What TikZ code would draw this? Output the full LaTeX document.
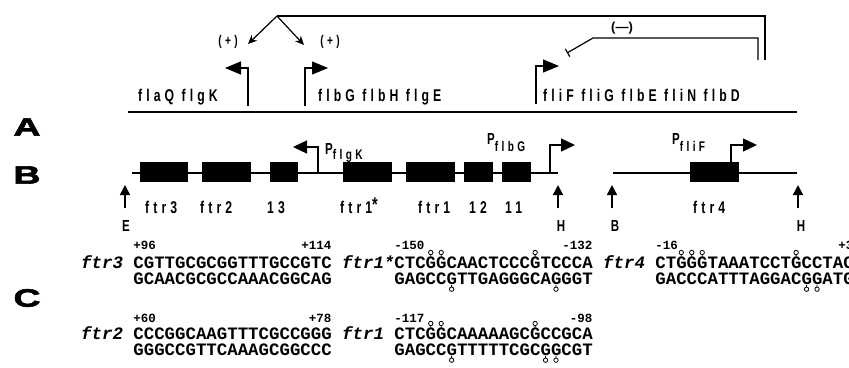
\documentclass[tikz,border=0pt]{standalone}
\usepackage{fontspec}
\usetikzlibrary{arrows.meta}
\setmainfont{Liberation Sans}
\newfontfamily\genefont[FakeStretch=0.72,LetterSpace=24]{Liberation Sans}
\newfontfamily\seqfont{Liberation Mono}
\newfontfamily\panelfont[FakeStretch=1.5,FakeBold=2.5]{Liberation Sans}
\newcommand\topmeth[2]{\draw[meth] (#1,#2-11.3) -- (#1,#2-13.3) (#1,#2-15.5) circle[radius=2.2];}
\newcommand\botmeth[2]{\draw[meth] (#1,#2+0.8) -- (#1,#2+3) (#1,#2+5.2) circle[radius=2.2];}
\tikzset{
  genetext/.style={font=\genefont\bfseries\fontsize{17}{17}\selectfont,inner sep=0pt,anchor=base west},
  sitelab/.style={font=\genefont\bfseries\fontsize{16}{16}\selectfont,inner sep=0pt,anchor=base},
  plab/.style={font=\genefont\bfseries\fontsize{16}{16}\selectfont,inner sep=0pt,anchor=base west},
  panel/.style={font=\panelfont\bfseries\fontsize{25}{25}\selectfont,inner sep=0pt},
  seqtext/.style={font=\seqfont\bfseries\fontsize{17.4}{17.4}\selectfont,inner sep=0pt,anchor=base west},
  seqlab/.style={font=\seqfont\bfseries\itshape\fontsize{17.4}{17.4}\selectfont,inner sep=0pt,anchor=base west},
  posnum/.style={font=\seqfont\bfseries\fontsize{12.5}{12.5}\selectfont,inner sep=0pt},
  signlab/.style={font=\genefont\bfseries\fontsize{14}{14}\selectfont,inner sep=0pt},
  geneline/.style={line width=1.5pt},
  promline/.style={line width=1.4pt,-{Triangle[length=16pt,width=13pt]}},
  prombline/.style={line width=1.3pt,-{Triangle[length=14pt,width=13pt]}},
  sitearrow/.style={line width=1.5pt,-{Triangle[length=10pt,width=10pt]}},
  regline/.style={line width=1.2pt},
  actarrow/.style={line width=1.2pt,-{Stealth[length=9pt,width=8pt]}},
  inhib/.style={line width=1.2pt,-{Bar[width=9pt,line width=1.2pt]}},
  orf/.style={fill=black},
  meth/.style={line width=0.8pt},
}
\begin{document}
\begin{tikzpicture}[x=1pt,y=-1pt]
\fill[white] (0,0) rectangle (849,367);
\useasboundingbox (0,0) rectangle (849,367);

% panel letters
\node[panel] (LA) at (27,127) {A};
\node[panel] (LB) at (27,175) {B};
\node[panel] (LC) at (27,298) {C};

% ---------------- A ----------------
\coordinate (lineAL) at (128,112);
\coordinate (lineAR) at (797,112);
\draw[geneline] (lineAL) -- (lineAR);

\node[genetext] (gK) at (138,101) {flaQ flgK};
\node[genetext] (gG) at (318,101) {flbG flbH flgE};
\node[genetext] (gF) at (543,101) {fliF fliG flbE fliN flbD};

\coordinate (pKb) at (248,106); \coordinate (pKt) at (225,68);
\coordinate (pGb) at (305,106); \coordinate (pGt) at (328,68);
\coordinate (pFb) at (536,104); \coordinate (pFt) at (559,66);
\draw[promline] (pKb) |- (pKt);
\draw[promline] (pGb) |- (pGt);
\draw[promline] (pFb) |- (pFt);

% regulation
\coordinate (apex) at (277,16);
\coordinate (corner) at (765,16);
\coordinate (outEnd) at (765,60);
\coordinate (actK) at (248,44);
\coordinate (actG) at (304,45);
\draw[regline] (apex) -- (corner) -- (outEnd);
\draw[actarrow] (apex) -- (actK);
\draw[actarrow] (apex) -- (actG);
\coordinate (inStart) at (758,60);
\coordinate (inKnee) at (593,38);
\coordinate (inEnd) at (567,53);
\draw[inhib] (inStart) |- (inKnee) -- (inEnd);

\node[signlab] (plusK) at (228,42) {(+)};
\node[signlab] (plusG) at (330,42) {(+)};
\node[font=\bfseries\fontsize{13}{13}\selectfont,inner sep=0pt] (minus) at (622,28) {(\textemdash)};

% ---------------- B ----------------
\coordinate (b1L) at (132,173); \coordinate (b1R) at (558,173);
\coordinate (b2L) at (613,173); \coordinate (b2R) at (797,173);
\draw[line width=1.2pt] (b1L) -- (b1R);
\draw[line width=1.2pt] (b2L) -- (b2R);
\fill[orf] (140,162) rectangle (188,182);
\fill[orf] (202,162) rectangle (251,182);
\fill[orf] (270,162) rectangle (298,182);
\fill[orf] (343,162) rectangle (392,182);
\fill[orf] (406,162) rectangle (455,182);
\fill[orf] (464,162) rectangle (493,182);
\fill[orf] (502,162) rectangle (531,182);
\fill[orf] (690,162) rectangle (739,182);

\coordinate (pbKb) at (318,173); \coordinate (pbKt) at (293,147);
\coordinate (pbGb) at (550,173); \coordinate (pbGt) at (575,145);
\coordinate (pbFb) at (731,162); \coordinate (pbFt) at (757,145);
\draw[prombline] (pbKb) |- (pbKt);
\draw[prombline] (pbGb) |- (pbGt);
\draw[prombline] (pbFb) |- (pbFt);

\node[plab] (PK) at (325,154) {P\raisebox{-5pt}{\fontsize{14}{14}\selectfont flgK}};
\node[plab] (PG) at (487,144) {P\raisebox{-7pt}{\fontsize{14}{14}\selectfont flbG}};
\node[plab] (PF) at (672,144) {P\raisebox{-7pt}{\fontsize{14}{14}\selectfont fliF}};

% restriction sites
\coordinate (sEt) at (125,185); \coordinate (sEb) at (125,208);
\coordinate (sH1t) at (558,185); \coordinate (sH1b) at (558,208);
\coordinate (sBt) at (612,185); \coordinate (sBb) at (612,208);
\coordinate (sH2t) at (798,185); \coordinate (sH2b) at (798,208);
\draw[sitearrow] (sEb) -- (sEt);
\draw[sitearrow] (sH1b) -- (sH1t);
\draw[sitearrow] (sBb) -- (sBt);
\draw[sitearrow] (sH2b) -- (sH2t);
\node[sitelab] (sE) at (126,231) {E};
\node[sitelab] (sH1) at (561,231) {H};
\node[sitelab] (sB) at (615,231) {B};
\node[sitelab] (sH2) at (801,231) {H};

\node[genetext] (f3) at (145,213) {ftr3};
\node[genetext] (f2) at (200,213) {ftr2};
\node[genetext] (i3) at (267,213) {13};
\node[genetext] (f1s) at (340,213) {ftr1\raisebox{2pt}{\fontsize{20}{20}\selectfont\bfseries *}};
\node[genetext] (f1) at (418,213) {ftr1};
\node[genetext] (i2) at (469,213) {12};
\node[genetext] (i1) at (505,213) {11};
\node[genetext] (f4) at (693,213) {ftr4};

% ---------------- C ----------------
\node[posnum,anchor=base west] (n96) at (133.2,249) {+96};
\node[posnum,anchor=base east] (n114) at (331.6,249) {+114};
\node[posnum,anchor=base west] (n150) at (394.2,249) {-150};
\node[posnum,anchor=base east] (n132) at (592.6,249) {-132};
\node[posnum,anchor=base west] (n16) at (655.2,249) {-16};
\node[posnum,anchor=base east] (n3) at (853.6,249) {+3};
\node[posnum,anchor=base west] (n60) at (133.2,322) {+60};
\node[posnum,anchor=base east] (n78) at (331.6,322) {+78};
\node[posnum,anchor=base west] (n117) at (394.2,322) {-117};
\node[posnum,anchor=base east] (n98) at (592.6,322) {-98};

\node[seqlab] (l3) at (81,268) {ftr3};
\node[seqlab] (l1s) at (342,268) {ftr1*};
\node[seqlab] (l4) at (603,268) {ftr4};
\node[seqlab] (l2) at (81,339) {ftr2};
\node[seqlab] (l1) at (342,339) {ftr1};

\node[seqtext] (s3a) at (133.2,268) {CGTTGCGCGGTTTGCCGTC};
\node[seqtext] (s3b) at (133.2,284) {GCAACGCGCCAAACGGCAG};
\node[seqtext] (s1sa) at (394.2,268) {CTCGGCAACTCCCGTCCCA};
\node[seqtext] (s1sb) at (394.2,284) {GAGCCGTTGAGGGCAGGGT};
\node[seqtext] (s4a) at (655.2,268) {CTGGGTAAATCCTGCCTAC};
\node[seqtext] (s4b) at (655.2,284) {GACCCATTTAGGACGGATG};
\node[seqtext] (s2a) at (133.2,339) {CCCGGCAAGTTTCGCCGGG};
\node[seqtext] (s2b) at (133.2,355) {GGGCCGTTCAAAGCGGCCC};
\node[seqtext] (s1a) at (394.2,339) {CTCGGCAAAAAGCGCCGCA};
\node[seqtext] (s1b) at (394.2,355) {GAGCCGTTTTTCGCGGCGT};

% contact circles
\foreach \c in {4,5,14}{\pgfmathsetmacro\xx{394.2+10.44*(\c-0.5)}\topmeth{\xx}{268}}
\foreach \c in {6,16}{\pgfmathsetmacro\xx{394.2+10.44*(\c-0.5)}\botmeth{\xx}{284}}
\foreach \c in {3,4,5,14}{\pgfmathsetmacro\xx{655.2+10.44*(\c-0.5)}\topmeth{\xx}{268}}
\foreach \c in {15,16}{\pgfmathsetmacro\xx{655.2+10.44*(\c-0.5)}\botmeth{\xx}{284}}
\foreach \c in {4,5,14}{\pgfmathsetmacro\xx{394.2+10.44*(\c-0.5)}\topmeth{\xx}{339}}
\foreach \c in {6,15,16}{\pgfmathsetmacro\xx{394.2+10.44*(\c-0.5)}\botmeth{\xx}{355}}
\end{tikzpicture}
\end{document}
